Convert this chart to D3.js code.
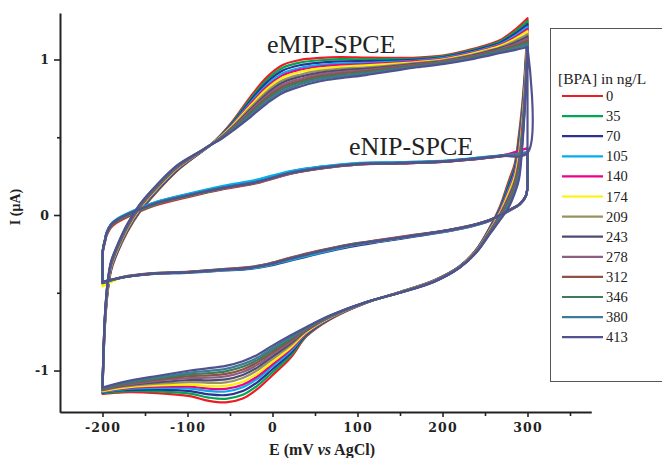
<!DOCTYPE html>
<html><head><meta charset="utf-8">
<script src="https://cdn.jsdelivr.net/npm/d3@7"></script>
<style>body{margin:0;background:#fff}svg{display:block}</style>
</head><body><svg id="c" width="662" height="458"></svg>
<script>
const concentrations = [0,35,70,105,140,174,209,243,278,312,346,380,413];
const seriesColors = ["#ED1C24","#00A651","#2E3192","#00AEEF","#EC008C","#FFF200","#9A9163","#4D4B73","#8E5E82","#8C5244","#3F7B5C","#3B7C96","#50518E"];
const xTicks = [-200,-100,0,100,200,300];
const xMinor = [-150,-50,50,150,250,350];
const yTicks = [-1,0,1];
const yMinor = [-0.5,0.5];

// eMIP-SPCE: potentials (mV) of forward and reverse sweeps
const mipForwardE = [-200,-199.5,-198.5,-197,-194,-190,-183,-171,-156,-136,-112,-85,-73,-60,-46,-26,-6,12,32,56,80,110,140,170,200,230,250,268,285,300];
const mipReverseE = [300,299,297,294,290,285,278,268,256,240,220,190,150,110,68,40,21,0,-18,-35,-55,-75,-97,-136,-176,-200];
// currents (µA), one row per concentration
const mipForwardI = [
[-1.13,-1.04,-0.88,-0.70,-0.50,-0.36,-0.25,-0.11,0.02,0.15,0.285,0.40,0.45,0.52,0.61,0.76,0.89,0.965,0.997,1.01,1.015,1.012,1.01,1.012,1.025,1.06,1.09,1.125,1.19,1.265],
[-1.13,-1.04,-0.87,-0.69,-0.49,-0.35,-0.245,-0.105,0.025,0.155,0.289,0.401,0.45,0.517,0.604,0.747,0.873,0.947,0.98,0.995,1.002,1.001,1.002,1.006,1.02,1.054,1.083,1.117,1.177,1.247],
[-1.126,-1.032,-0.868,-0.686,-0.486,-0.348,-0.24,-0.1,0.03,0.159,0.292,0.402,0.45,0.514,0.597,0.734,0.856,0.929,0.963,0.98,0.988,0.99,0.993,1.0,1.014,1.047,1.076,1.108,1.164,1.228],
[-1.124,-1.028,-0.862,-0.679,-0.479,-0.342,-0.235,-0.095,0.035,0.164,0.296,0.403,0.45,0.511,0.59,0.721,0.839,0.911,0.945,0.965,0.975,0.978,0.985,0.993,1.009,1.041,1.069,1.1,1.151,1.21],
[-1.123,-1.025,-0.858,-0.674,-0.474,-0.338,-0.232,-0.092,0.038,0.167,0.298,0.404,0.45,0.509,0.586,0.712,0.827,0.898,0.933,0.955,0.965,0.971,0.979,0.989,1.005,1.037,1.064,1.094,1.142,1.197],
[-1.121,-1.022,-0.853,-0.669,-0.469,-0.333,-0.228,-0.088,0.043,0.17,0.301,0.405,0.45,0.507,0.581,0.702,0.814,0.884,0.92,0.943,0.954,0.962,0.972,0.984,1.0,1.032,1.059,1.088,1.132,1.182],
[-1.119,-1.018,-0.847,-0.662,-0.462,-0.327,-0.223,-0.083,0.048,0.175,0.304,0.406,0.45,0.504,0.574,0.689,0.797,0.866,0.902,0.928,0.941,0.95,0.963,0.978,0.995,1.025,1.052,1.079,1.119,1.163],
[-1.117,-1.015,-0.842,-0.656,-0.456,-0.322,-0.218,-0.078,0.052,0.178,0.307,0.406,0.45,0.501,0.569,0.678,0.783,0.852,0.889,0.916,0.93,0.941,0.956,0.973,0.99,1.02,1.046,1.073,1.108,1.148],
[-1.116,-1.012,-0.837,-0.65,-0.45,-0.317,-0.215,-0.075,0.055,0.182,0.31,0.407,0.45,0.499,0.564,0.668,0.769,0.837,0.875,0.904,0.919,0.932,0.95,0.968,0.986,1.015,1.04,1.066,1.098,1.134],
[-1.114,-1.009,-0.833,-0.645,-0.445,-0.313,-0.211,-0.071,0.059,0.185,0.312,0.408,0.45,0.497,0.559,0.659,0.757,0.825,0.863,0.893,0.91,0.925,0.944,0.964,0.982,1.011,1.035,1.06,1.089,1.121],
[-1.113,-1.006,-0.829,-0.64,-0.44,-0.309,-0.208,-0.068,0.063,0.188,0.315,0.409,0.45,0.495,0.555,0.65,0.746,0.812,0.851,0.883,0.90,0.917,0.938,0.959,0.978,1.006,1.031,1.054,1.08,1.108],
[-1.112,-1.003,-0.825,-0.636,-0.436,-0.305,-0.204,-0.064,0.066,0.191,0.317,0.409,0.45,0.492,0.55,0.64,0.734,0.799,0.839,0.872,0.891,0.909,0.932,0.955,0.974,1.002,1.026,1.049,1.07,1.095],
[-1.11,-1.00,-0.82,-0.63,-0.43,-0.30,-0.20,-0.06,0.07,0.195,0.32,0.41,0.45,0.49,0.545,0.63,0.72,0.785,0.825,0.86,0.88,0.90,0.925,0.95,0.97,0.997,1.02,1.042,1.06,1.08]
];
const mipReverseI = [
[1.265,1.12,0.93,0.72,0.52,0.33,0.22,0.06,-0.075,-0.22,-0.33,-0.42,-0.495,-0.565,-0.67,-0.78,-0.92,-1.03,-1.12,-1.18,-1.205,-1.195,-1.165,-1.145,-1.14,-1.15],
[1.247,1.098,0.907,0.693,0.491,0.311,0.203,0.051,-0.08,-0.222,-0.331,-0.421,-0.495,-0.564,-0.667,-0.774,-0.905,-1.011,-1.098,-1.156,-1.182,-1.174,-1.149,-1.134,-1.134,-1.146],
[1.228,1.076,0.884,0.666,0.462,0.292,0.186,0.042,-0.084,-0.224,-0.332,-0.422,-0.496,-0.564,-0.665,-0.768,-0.891,-0.992,-1.076,-1.132,-1.158,-1.153,-1.132,-1.123,-1.127,-1.142],
[1.21,1.054,0.861,0.639,0.433,0.273,0.169,0.033,-0.089,-0.226,-0.333,-0.423,-0.497,-0.564,-0.663,-0.762,-0.877,-0.973,-1.054,-1.108,-1.135,-1.132,-1.116,-1.112,-1.121,-1.138],
[1.197,1.039,0.845,0.62,0.413,0.26,0.157,0.027,-0.092,-0.227,-0.334,-0.424,-0.497,-0.563,-0.661,-0.758,-0.866,-0.96,-1.039,-1.091,-1.118,-1.117,-1.104,-1.104,-1.116,-1.135],
[1.182,1.021,0.827,0.598,0.39,0.245,0.144,0.02,-0.095,-0.229,-0.335,-0.425,-0.497,-0.563,-0.659,-0.753,-0.855,-0.945,-1.021,-1.072,-1.099,-1.1,-1.091,-1.096,-1.111,-1.132],
[1.163,0.999,0.804,0.572,0.36,0.226,0.127,0.011,-0.1,-0.231,-0.336,-0.426,-0.498,-0.562,-0.656,-0.747,-0.84,-0.926,-0.999,-1.048,-1.076,-1.079,-1.074,-1.085,-1.104,-1.128],
[1.148,0.981,0.785,0.55,0.337,0.21,0.113,0.003,-0.103,-0.233,-0.336,-0.426,-0.498,-0.562,-0.654,-0.742,-0.829,-0.91,-0.981,-1.029,-1.057,-1.063,-1.061,-1.076,-1.099,-1.125],
[1.134,0.964,0.767,0.528,0.314,0.195,0.099,-0.004,-0.107,-0.234,-0.337,-0.427,-0.499,-0.561,-0.652,-0.737,-0.817,-0.895,-0.964,-1.01,-1.038,-1.046,-1.048,-1.067,-1.094,-1.122],
[1.121,0.948,0.751,0.509,0.294,0.182,0.087,-0.01,-0.11,-0.236,-0.338,-0.428,-0.499,-0.561,-0.65,-0.733,-0.807,-0.882,-0.948,-0.993,-1.022,-1.031,-1.036,-1.059,-1.089,-1.119],
[1.108,0.933,0.734,0.49,0.274,0.169,0.076,-0.017,-0.113,-0.237,-0.339,-0.429,-0.499,-0.561,-0.649,-0.729,-0.797,-0.869,-0.933,-0.976,-1.005,-1.017,-1.025,-1.052,-1.085,-1.116],
[1.095,0.918,0.718,0.472,0.253,0.155,0.064,-0.023,-0.116,-0.238,-0.339,-0.429,-0.5,-0.56,-0.647,-0.725,-0.787,-0.855,-0.918,-0.959,-0.989,-1.002,-1.013,-1.044,-1.08,-1.113],
[1.08,0.90,0.70,0.45,0.23,0.14,0.05,-0.03,-0.12,-0.24,-0.34,-0.43,-0.5,-0.56,-0.645,-0.72,-0.775,-0.84,-0.90,-0.94,-0.97,-0.985,-1.0,-1.035,-1.075,-1.11]
];

// eNIP-SPCE
const nipForwardE = [-200,-200,-199.5,-197,-195,-190,-183,-164,-136,-97,-58,-18,21,56,103,150,209,268,300];
const nipReverseE = [300,300,300,298,291,279,256,232,209,170,130,91,52,21,-3,-26,-60,-97,-144,-176,-200];
const nipForwardI = [
[-0.44,-0.345,-0.235,-0.175,-0.13,-0.08,-0.048,0.004,0.064,0.118,0.166,0.205,0.264,0.298,0.325,0.332,0.345,0.377,0.397],
[-0.44,-0.343,-0.23,-0.168,-0.124,-0.072,-0.04,0.01,0.07,0.123,0.17,0.209,0.268,0.3,0.327,0.333,0.346,0.378,0.398],
[-0.435,-0.338,-0.222,-0.157,-0.112,-0.06,-0.028,0.024,0.083,0.136,0.182,0.222,0.279,0.309,0.333,0.338,0.35,0.382,0.402],
[-0.435,-0.336,-0.22,-0.154,-0.109,-0.057,-0.025,0.027,0.086,0.14,0.188,0.228,0.283,0.312,0.335,0.34,0.352,0.384,0.404],
[-0.437,-0.34,-0.226,-0.162,-0.118,-0.066,-0.034,0.017,0.075,0.127,0.172,0.21,0.268,0.3,0.326,0.332,0.345,0.38,0.43],
[-0.46,-0.342,-0.226,-0.161,-0.117,-0.065,-0.033,0.018,0.076,0.128,0.173,0.211,0.269,0.301,0.327,0.333,0.346,0.378,0.398],
[-0.438,-0.341,-0.226,-0.161,-0.117,-0.065,-0.033,0.018,0.076,0.128,0.173,0.211,0.269,0.301,0.327,0.333,0.346,0.378,0.398],
[-0.437,-0.34,-0.224,-0.159,-0.115,-0.063,-0.031,0.02,0.078,0.13,0.175,0.213,0.271,0.303,0.329,0.335,0.348,0.38,0.4],
[-0.438,-0.341,-0.227,-0.163,-0.119,-0.067,-0.035,0.016,0.074,0.126,0.171,0.209,0.267,0.3,0.326,0.332,0.345,0.377,0.397],
[-0.437,-0.34,-0.225,-0.16,-0.116,-0.064,-0.032,0.019,0.077,0.129,0.174,0.212,0.27,0.302,0.328,0.334,0.347,0.379,0.399],
[-0.438,-0.341,-0.226,-0.161,-0.117,-0.065,-0.033,0.018,0.076,0.128,0.173,0.211,0.269,0.301,0.327,0.333,0.346,0.378,0.398],
[-0.436,-0.339,-0.223,-0.158,-0.114,-0.062,-0.03,0.021,0.079,0.131,0.176,0.214,0.272,0.304,0.33,0.336,0.349,0.381,0.401],
[-0.437,-0.34,-0.225,-0.16,-0.116,-0.064,-0.032,0.019,0.077,0.129,0.174,0.212,0.27,0.302,0.328,0.334,0.347,0.379,0.399]
];
const nipReverseI = [
[0.397,0.29,0.18,0.122,0.072,0.034,-0.03,-0.068,-0.093,-0.125,-0.157,-0.188,-0.232,-0.274,-0.31,-0.334,-0.349,-0.364,-0.375,-0.398,-0.44],
[0.398,0.29,0.18,0.122,0.072,0.033,-0.031,-0.07,-0.095,-0.127,-0.159,-0.19,-0.235,-0.277,-0.312,-0.336,-0.35,-0.365,-0.376,-0.399,-0.44],
[0.402,0.29,0.18,0.12,0.068,0.028,-0.036,-0.076,-0.102,-0.136,-0.17,-0.205,-0.252,-0.294,-0.326,-0.346,-0.358,-0.371,-0.381,-0.402,-0.435],
[0.404,0.29,0.18,0.12,0.068,0.03,-0.035,-0.075,-0.1,-0.133,-0.166,-0.2,-0.248,-0.29,-0.322,-0.344,-0.356,-0.37,-0.38,-0.401,-0.435],
[0.43,0.29,0.18,0.121,0.07,0.031,-0.033,-0.072,-0.097,-0.13,-0.162,-0.194,-0.239,-0.281,-0.316,-0.339,-0.353,-0.368,-0.379,-0.4,-0.437],
[0.398,0.29,0.18,0.121,0.07,0.031,-0.033,-0.072,-0.097,-0.13,-0.163,-0.195,-0.24,-0.282,-0.316,-0.339,-0.353,-0.368,-0.379,-0.401,-0.46],
[0.398,0.29,0.18,0.122,0.071,0.032,-0.032,-0.071,-0.096,-0.129,-0.161,-0.193,-0.238,-0.28,-0.315,-0.338,-0.352,-0.367,-0.378,-0.4,-0.438],
[0.4,0.29,0.18,0.122,0.071,0.032,-0.033,-0.072,-0.097,-0.13,-0.162,-0.195,-0.24,-0.282,-0.316,-0.339,-0.353,-0.368,-0.379,-0.401,-0.437],
[0.397,0.29,0.18,0.122,0.072,0.033,-0.031,-0.07,-0.095,-0.128,-0.16,-0.192,-0.237,-0.279,-0.314,-0.337,-0.351,-0.366,-0.377,-0.399,-0.438],
[0.399,0.29,0.18,0.122,0.071,0.032,-0.032,-0.071,-0.096,-0.129,-0.161,-0.193,-0.238,-0.28,-0.315,-0.338,-0.352,-0.367,-0.378,-0.4,-0.43],
[0.398,0.29,0.18,0.122,0.071,0.032,-0.032,-0.071,-0.096,-0.129,-0.161,-0.194,-0.239,-0.281,-0.315,-0.338,-0.352,-0.367,-0.378,-0.4,-0.438],
[0.401,0.29,0.18,0.121,0.07,0.031,-0.033,-0.072,-0.097,-0.13,-0.162,-0.194,-0.24,-0.282,-0.316,-0.339,-0.353,-0.368,-0.379,-0.401,-0.436],
[1.08,0.29,0.18,0.122,0.071,0.032,-0.032,-0.071,-0.096,-0.129,-0.161,-0.193,-0.238,-0.28,-0.315,-0.338,-0.352,-0.367,-0.378,-0.4,-0.43]
];

const svg = d3.select("#c");
const x = d3.scaleLinear().domain([-250,375]).range([60,591.25]);
const y = d3.scaleLinear().domain([-1.268,1.299]).range([412.2,13]);

const line = d3.line().x(d=>x(d[0])).y(d=>y(d[1])).curve(d3.curveCatmullRom.alpha(0.5));
const plot = svg.append("g");
concentrations.forEach((c,i)=>{
  const mip = mipForwardE.map((e,j)=>[e,mipForwardI[i][j]]).concat(mipReverseE.map((e,j)=>[e,mipReverseI[i][j]]));
  const nip = nipForwardE.map((e,j)=>[e,nipForwardI[i][j]]).concat(nipReverseE.map((e,j)=>[e,nipReverseI[i][j]]));
  [mip,nip].forEach(pts=>{
    plot.append("path").attr("d",line(pts)).attr("fill","none")
      .attr("stroke",seriesColors[i]).attr("stroke-width",2.2)
      .attr("stroke-linejoin","round").attr("stroke-linecap","round");
  });
});

// axes
const tickFont = "'DejaVu Serif', serif";
const gx = svg.append("g").attr("transform","translate(0,412)")
  .call(d3.axisBottom(x).tickValues(xTicks).tickSize(5).tickSizeOuter(0).tickPadding(6).tickFormat(d=>String(d)));
const gxm = svg.append("g").attr("transform","translate(0,412)")
  .call(d3.axisBottom(x).tickValues(xMinor).tickSize(4).tickSizeOuter(0).tickFormat(""));
gxm.select(".domain").remove();
const gy = svg.append("g").attr("transform","translate(60,0)")
  .call(d3.axisLeft(y).tickValues(yTicks).tickSize(6).tickSizeOuter(0).tickPadding(5).tickFormat(d=>String(d)));
const gym = svg.append("g").attr("transform","translate(60,0)")
  .call(d3.axisLeft(y).tickValues(yMinor).tickSize(3).tickSizeOuter(0).tickFormat(""));
gym.select(".domain").remove();
[gx,gxm,gy,gym].forEach(g=>{
  g.selectAll(".domain").attr("stroke","#222").attr("stroke-width",2);
  g.selectAll(".tick line").attr("stroke","#222").attr("stroke-width",1.6);
  g.selectAll("text").attr("font-family",tickFont).attr("font-weight","bold")
    .attr("font-size",12.5).attr("fill","#222");
});
gx.selectAll("text").attr("letter-spacing",1.2);

// axis titles
svg.append("text").attr("x",322).attr("y",455).attr("text-anchor","middle")
  .attr("font-family","'Liberation Serif', serif").attr("font-weight","bold").attr("font-size",16).attr("fill","#222")
  .call(t=>{t.append("tspan").text("E (mV ");t.append("tspan").attr("font-style","italic").text("vs");t.append("tspan").text(" AgCl)");});
svg.append("text").attr("transform","translate(20,207) rotate(-90)").attr("text-anchor","middle")
  .attr("font-family","'Liberation Serif', serif").attr("font-weight","bold").attr("font-size",14).attr("fill","#222")
  .text("I (μA)");

// annotations
svg.append("text").attr("x",267).attr("y",53).attr("font-family","'Liberation Serif', serif")
  .attr("font-size",26).attr("fill","#222").text("eMIP-SPCE");
svg.append("text").attr("x",349).attr("y",155).attr("font-family","'Liberation Serif', serif")
  .attr("font-size",26).attr("fill","#222").text("eNIP-SPCE");

// legend
const lg = svg.append("g");
lg.append("rect").attr("x",550.5).attr("y",28.5).attr("width",130).attr("height",353)
  .attr("fill","none").attr("stroke","#555").attr("stroke-width",1);
lg.append("text").attr("x",558).attr("y",84).attr("font-family","'Liberation Serif', serif")
  .attr("font-size",15.5).attr("fill","#222").text("[BPA] in ng/L");
concentrations.forEach((c,i)=>{
  const yy = 96 + i*20.1;
  lg.append("line").attr("x1",562).attr("x2",603).attr("y1",yy).attr("y2",yy)
    .attr("stroke",seriesColors[i]).attr("stroke-width",2.2);
  lg.append("text").attr("x",606).attr("y",yy+5).attr("font-family","'Liberation Serif', serif")
    .attr("font-size",14.5).attr("fill","#222").text(c);
});
</script></body></html>
